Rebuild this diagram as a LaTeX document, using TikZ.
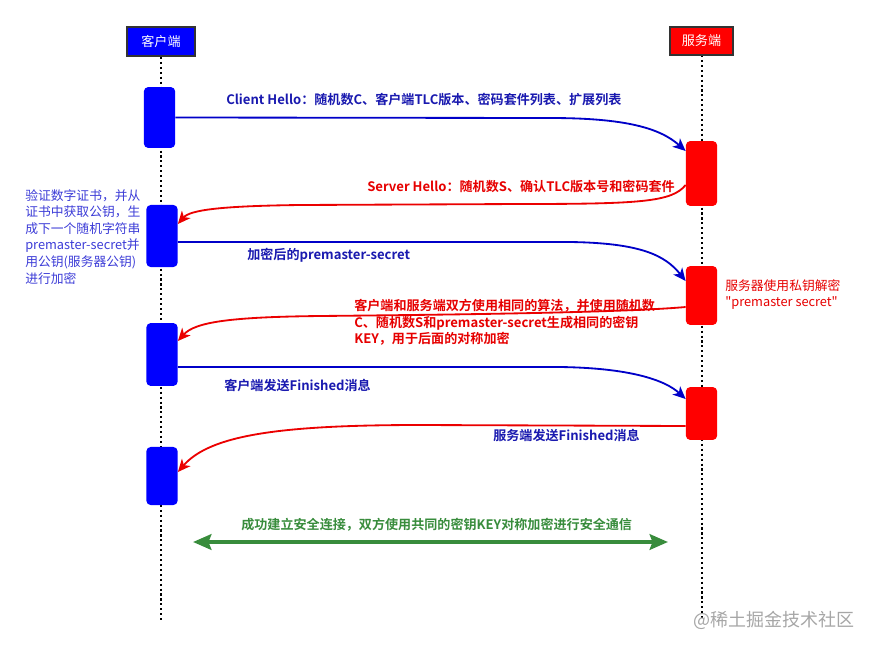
\documentclass[tikz,border=0pt]{standalone}
\usepackage{fontspec}
\setmainfont{Noto Sans CJK SC}[BoldFont={Noto Sans CJK SC Bold}, Ligatures=TeXOff]
\usetikzlibrary{arrows.meta}

\definecolor{boxblue}{RGB}{0,0,255}
\definecolor{boxred}{RGB}{255,0,0}
\definecolor{lineblue}{RGB}{0,0,200}
\definecolor{linered}{RGB}{235,0,0}
\definecolor{txtblue}{RGB}{25,25,175}
\definecolor{noteblue}{RGB}{60,60,215}
\definecolor{txtred}{RGB}{230,0,0}
\definecolor{okgreen}{RGB}{56,140,60}

\begin{document}
\begin{tikzpicture}[x=0.025cm, y=-0.025cm,
  every node/.style={font=\fontsize{9.3}{12}\selectfont, inner sep=0pt},
  head/.style={draw=black!80, line width=1.4pt, text=white, minimum height=0.72cm},
  act/.style={rounded corners=3pt, minimum width=0.78cm},
  lifeline/.style={line width=1.4pt, dash pattern=on 1.5pt off 2pt},
  msg/.style={line width=1.3pt, -{Stealth[length=9pt,width=8pt,inset=2.5pt]}},
  lbl/.style={font=\fontsize{9.3}{12}\selectfont\bfseries},
  note/.style={align=left, text=noteblue, font=\fontsize{9.1}{11.8}\selectfont}]
  \useasboundingbox (0,0) rectangle (873,651);

  % Lifelines
  \draw[lifeline] (161,57) -- (161,620);
  \draw[lifeline] (702,55) -- (702,620);

  % Headers
  \node[head, fill=boxblue, minimum width=1.7cm] (client) at (161,41.5) {客户端};
  \node[head, fill=boxred, minimum width=1.57cm] (server) at (701.5,41) {服务端};

  % Activation boxes
  \node[act, fill=boxblue, minimum height=1.52cm] (c1) at (159.5,117.5) {};
  \node[act, fill=boxblue, minimum height=1.55cm] (c2) at (162,236) {};
  \node[act, fill=boxblue, minimum height=1.57cm] (c3) at (162,354.5) {};
  \node[act, fill=boxblue, minimum height=1.45cm] (c4) at (162,476) {};
  \node[act, fill=boxred, minimum height=1.62cm] (s1) at (701.5,173.5) {};
  \node[act, fill=boxred, minimum height=1.47cm] (s2) at (701.5,295.5) {};
  \node[act, fill=boxred, minimum height=1.32cm] (s3) at (701.5,413.5) {};

  % Messages
  \draw[msg, lineblue] (c1.east) -- (550,118) .. controls (625,118) and (660,128) .. (s1.north west |- 0,151);
  \draw[msg, linered] (s1.west |- 0,185) .. controls (672,202) and (640,204) .. (520,204) -- (300,205) .. controls (220,206) and (190,210) .. (c2.east |- 0,224);
  \draw[msg, lineblue] (c2.east |- 0,242) -- (570,242) .. controls (640,243) and (665,255) .. (s2.west |- 0,281);
  \draw[msg, linered] (s2.west |- 0,307) .. controls (620,313) and (420,315) .. (320,316) .. controls (230,317) and (195,322) .. (c3.east |- 0,341);
  \draw[msg, lineblue] (c3.east |- 0,367) -- (560,367) .. controls (630,368) and (665,380) .. (s3.west |- 0,399);
  \draw[msg, linered] (s3.west |- 0,426) -- (420,425) .. controls (280,425) and (210,435) .. (c4.east |- 0,472);

  % Labels
  \node[lbl, text=txtblue, anchor=west] (hello1) at (226,100) {Client Hello：随机数C、客户端TLC版本、密码套件列表、扩展列表};
  \node[lbl, text=txtred, anchor=east] (hello2) at (675,187) {Server Hello：随机数S、确认TLC版本号和密码套件};
  \node[lbl, text=txtblue, anchor=west] (pms) at (247,255) {加密后的premaster-secret};
  \node[lbl, text=txtred, anchor=north west, align=left, font=\fontsize{9.3}{11.7}\selectfont\bfseries] (keygen) at (354,299)
    {客户端和服务端双方使用相同的算法，并使用随机数\\C、随机数S和premaster-secret生成相同的密钥\\KEY，用于后面的对称加密};
  \node[lbl, text=txtblue, anchor=west] (fin1) at (224,385) {客户端发送Finished消息};
  \node[lbl, text=txtblue, anchor=west] (fin2) at (493,436) {服务端发送Finished消息};

  % Notes
  \node[note, anchor=north west] (verify) at (25,189)
    {验证数字证书，并从\\证书中获取公钥，生\\成下一个随机字符串\\premaster-secret并\\用公钥(服务器公钥)\\进行加密};
  \node[note, text=txtred, anchor=north west, font=\fontsize{9.1}{11.4}\selectfont] (decrypt) at (725,279)
    {服务器使用私钥解密\\"premaster secret"};

  % Secure channel
  \coordinate (gl) at (193,542);
  \coordinate (gr) at (668,542);
  \draw[okgreen, line width=3pt, {Stealth[length=13pt,width=11pt,inset=2pt]}-{Stealth[length=13pt,width=11pt,inset=2pt]}] (gl) -- (gr);
  \node[lbl, text=okgreen, anchor=west] (secure) at (241,525) {成功建立安全连接，双方使用共同的密钥KEY对称加密进行安全通信};

  % Watermark
  \node[text=black!35, anchor=west, font=\fontsize{12.8}{16}\selectfont] (mark) at (693,620) {@稀土掘金技术社区};
\end{tikzpicture}
\end{document}
